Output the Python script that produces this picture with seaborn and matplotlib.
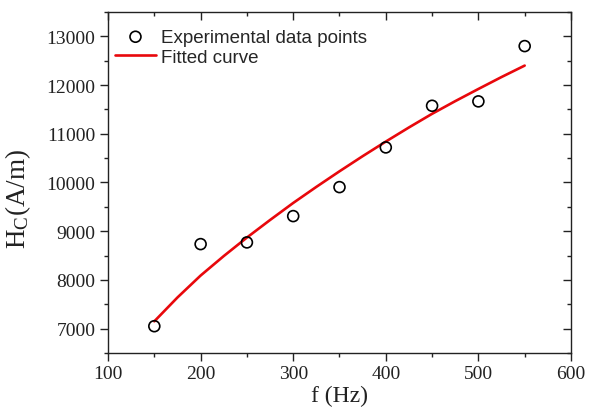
import matplotlib
matplotlib.use("Agg")
import matplotlib.pyplot as plt
from matplotlib.ticker import MultipleLocator
import seaborn as sns
import pandas as pd

# Data
freq_hz = [150, 200, 250, 300, 350, 400, 450, 500, 550]
hc_measured = [7050, 8735, 8770, 9310, 9905, 10720, 11575, 11665, 12800]

curve_freq = [150, 175, 200, 225, 250, 275, 300, 325, 350, 375, 400, 425, 450, 475, 500, 525, 550]
curve_hc = [7150, 7640, 8090, 8490, 8870, 9230, 9580, 9910, 10230, 10540, 10840,
            11130, 11410, 11670, 11920, 12165, 12400]

sns.set_theme(style="ticks")
plt.rcParams["font.family"] = ["Liberation Serif", "DejaVu Serif"]
plt.rcParams["mathtext.fontset"] = "custom"
plt.rcParams["mathtext.rm"] = "Liberation Serif"
plt.rcParams["mathtext.it"] = "Liberation Serif:italic"

df_pts = pd.DataFrame({"f": freq_hz, "H": hc_measured})
df_fit = pd.DataFrame({"f": curve_freq, "H": curve_hc})

fig = plt.figure(figsize=(5.89, 4.10), dpi=100)
ax = fig.add_axes([0.1834, 0.1366, 0.786, 0.8317])

sns.lineplot(data=df_fit, x="f", y="H", ax=ax, color="#e8080c", linewidth=1.9,
             label="Fitted curve", zorder=2)
sns.scatterplot(data=df_pts, x="f", y="H", ax=ax, marker="o", s=62,
                facecolor="none", edgecolor="black", linewidth=1.2,
                label="Experimental data points", zorder=3)

ax.set_xlim(100, 600)
ax.set_ylim(6500, 13500)
ax.xaxis.set_major_locator(MultipleLocator(100))
ax.xaxis.set_minor_locator(MultipleLocator(50))
ax.yaxis.set_major_locator(MultipleLocator(1000))
ax.yaxis.set_minor_locator(MultipleLocator(500))

for s in ax.spines.values():
    s.set_visible(True)
    s.set_linewidth(1.0)
    s.set_color("#222222")

ax.tick_params(axis="both", which="major", direction="out", length=5.5, width=1.0,
               labelsize=14, colors="#222222", labelcolor="#222222")
ax.tick_params(axis="both", which="minor", direction="out", length=3, width=1.0,
               colors="#222222")
# mirrored ticks on top/right pointing inward
ax.tick_params(axis="both", which="both", top=True, right=True)
for t in ax.xaxis.get_major_ticks() + ax.xaxis.get_minor_ticks():
    t.tick2line.set_marker(matplotlib.lines.TICKDOWN)
for t in ax.yaxis.get_major_ticks() + ax.yaxis.get_minor_ticks():
    t.tick2line.set_marker(matplotlib.lines.TICKLEFT)

ax.set_xlabel("f (Hz)", fontsize=17, labelpad=2, color="#222222")
ax.set_ylabel(r"H$_\mathregular{C}$(A/m)", fontsize=19.5, color="#222222")
ax.yaxis.set_label_coords(-0.163, 0.455)

handles, labels = ax.get_legend_handles_labels()
order = [labels.index("Experimental data points"), labels.index("Fitted curve")]
leg = ax.legend([handles[i] for i in order], [labels[i] for i in order],
                loc="upper left", frameon=False,
                prop={"family": "Liberation Sans", "size": 13.5},
                handlelength=2.2, handletextpad=0.25, labelspacing=0.16,
                borderaxespad=0.3, bbox_to_anchor=(-0.0136, 0.99))

fig.savefig("out.png", dpi=100)
